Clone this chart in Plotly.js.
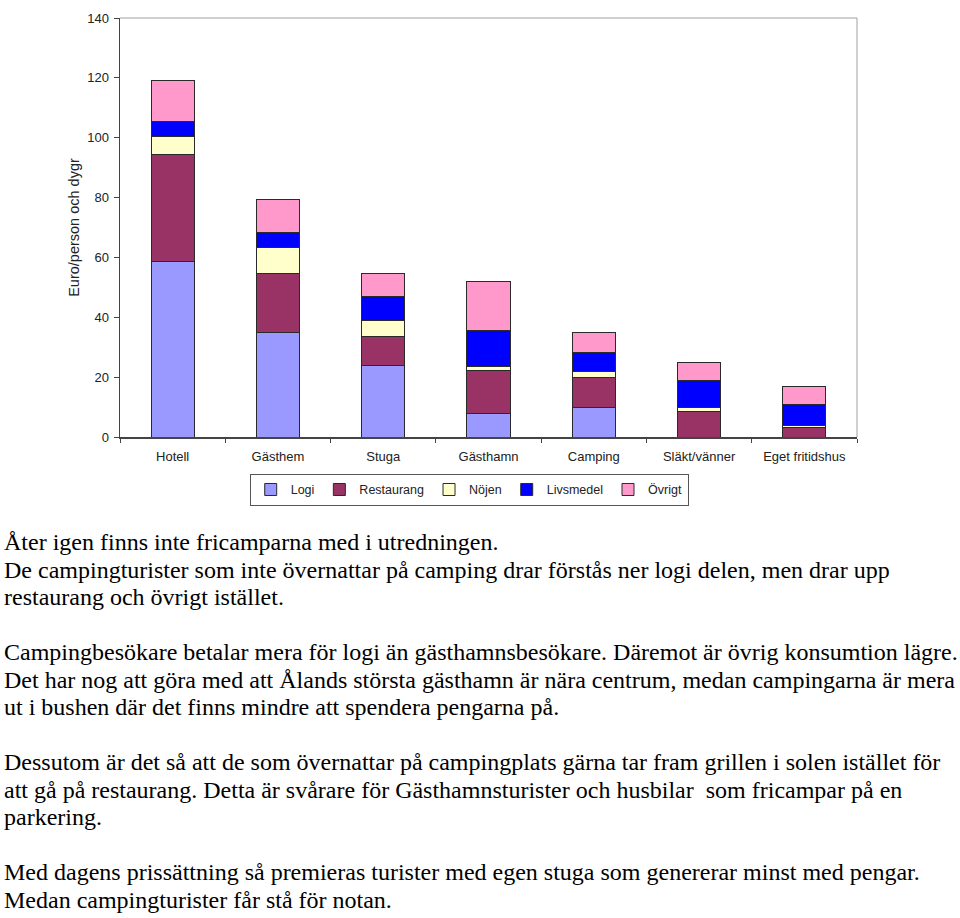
<!DOCTYPE html>
<html>
<head>
<meta charset="utf-8">
<script src="https://cdn.plot.ly/plotly-3.0.1.min.js"></script>
<style>
  html, body { margin: 0; padding: 0; background: #fff; width: 960px; height: 918px; overflow: hidden; }
  #chart { position: absolute; left: 0; top: 0; width: 960px; height: 540px; }
  #text { position: absolute; left: 4px; top: 529px; font-family: "Liberation Serif", "Times New Roman", serif;
          font-size: 24px; line-height: 27.5px; color: #000; white-space: nowrap; }
</style>
</head>
<body>
<div id="chart"></div>
<div id="text">
Åter igen finns inte fricamparna med i utredningen.<br>
De campingturister som inte övernattar på camping drar förstås ner logi delen, men drar upp<br>
restaurang och övrigt istället.<br>
<br>
Campingbesökare betalar mera för logi än gästhamnsbesökare. Däremot är övrig konsumtion lägre.<br>
Det har nog att göra med att Ålands största gästhamn är nära centrum, medan campingarna är mera<br>
ut i bushen där det finns mindre att spendera pengarna på.<br>
<br>
Dessutom är det så att de som övernattar på campingplats gärna tar fram grillen i solen istället för<br>
att gå på restaurang. Detta är svårare för Gästhamnsturister och husbilar&nbsp; som fricampar på en<br>
parkering.<br>
<br>
Med dagens prissättning så premieras turister med egen stuga som genererar minst med pengar.<br>
Medan campingturister får stå för notan.
</div>
<script>
const categories = ["Hotell", "Gästhem", "Stuga", "Gästhamn", "Camping", "Släkt/vänner", "Eget fritidshus"];
const logi       = [58.5, 35.0, 24.0,  7.9, 10.0, 0.0, 0.0];
const restaurang = [36.0, 19.7,  9.6, 14.4, 10.0, 8.6, 3.2];
const nojen      = [ 6.0,  8.7,  5.2,  1.1,  1.9, 1.3, 0.8];
const livsmedel  = [ 5.0,  5.0,  8.3, 12.3,  6.2, 8.9, 6.8];
const ovrigt     = [13.5, 11.0,  7.4, 16.1,  6.8, 6.2, 6.1];
const yTicks = [0, 20, 40, 60, 80, 100, 120, 140];

const seriesNames = ["Logi", "Restaurang", "Nöjen", "Livsmedel", "Övrigt"];
const seriesData = [logi, restaurang, nojen, livsmedel, ovrigt];
const colors = ["#9999FF", "#993366", "#FFFFCC", "#0000FF", "#FF99CC"];

const traces = seriesNames.map((n, i) => ({
  type: "bar",
  name: n,
  x: categories,
  y: seriesData[i],
  marker: { color: colors[i], line: { color: "#2a2a2a", width: 1 } },
  hoverinfo: "x+y+name"
}));

const layout = {
  width: 960, height: 540,
  margin: { l: 120, r: 103, t: 18, b: 103, autoexpand: false },
  barmode: "stack",
  bargap: 0.59,
  paper_bgcolor: "rgba(0,0,0,0)",
  plot_bgcolor: "#fff",
  font: { family: "Arial, 'Liberation Sans', sans-serif", size: 13, color: "#222" },
  showlegend: true,
  legend: {
    orientation: "h", x: 0.176, xanchor: "left", y: -0.088, yanchor: "top",
    bordercolor: "#555", borderwidth: 1, font: { size: 12.5 },
    itemwidth: 30, traceorder: "normal"
  },
  xaxis: {
    type: "category",
    showline: true, linecolor: "#444", linewidth: 1.5,
    ticks: "outside", tickson: "boundaries", ticklen: 4, tickcolor: "#444",
    showgrid: false, zeroline: false,
    ticklabelstandoff: 7,
    tickfont: { size: 13 }
  },
  yaxis: {
    range: [0, 140], tickvals: yTicks, ticktext: yTicks.map(String),
    showline: true, linecolor: "#444", linewidth: 1.5,
    ticks: "outside", ticklen: 5, tickcolor: "#444",
    showgrid: false, zeroline: false,
    ticklabelstandoff: 2,
    tickfont: { size: 13 },
    title: { text: "Euro/person och dygr", font: { size: 14.5 }, standoff: 4 }
  },
  shapes: [
    { type: "line", xref: "paper", yref: "paper", x0: 0, x1: 1, y0: 1, y1: 1, line: { color: "#a0a0a0", width: 1 } },
    { type: "line", xref: "paper", yref: "paper", x0: 1, x1: 1, y0: 0, y1: 1, line: { color: "#a0a0a0", width: 1 } }
  ]
};

Plotly.newPlot("chart", traces, layout, { displayModeBar: false, staticPlot: true });
</script>
</body>
</html>
